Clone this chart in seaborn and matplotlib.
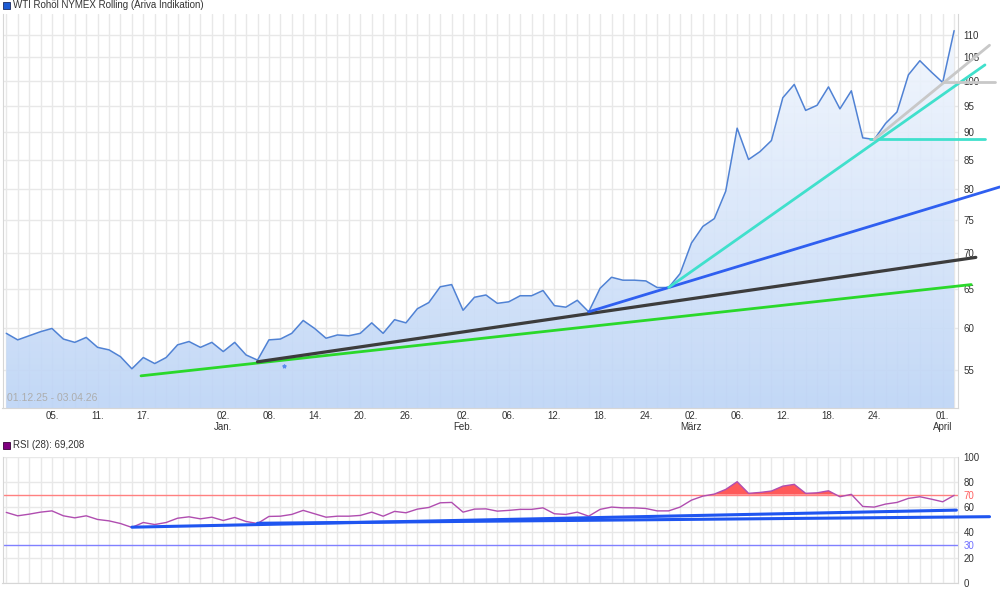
import numpy as np
import pandas as pd
import matplotlib
matplotlib.use('Agg')
import matplotlib.pyplot as plt
import seaborn as sns
from matplotlib.colors import LinearSegmentedColormap
from matplotlib.patches import Rectangle
from matplotlib.ticker import NullLocator

# daily closes, 01.12.25 - 02.04.26 (trading days)
price = [59.3, 58.5, 59.0, 59.5, 59.9, 58.6, 58.2, 58.8, 57.6, 57.3,
         56.5, 55.1, 56.4, 55.7, 56.4, 57.9, 58.3, 57.6, 58.2, 57.1,
         58.2, 56.7, 56.1, 58.5, 58.6, 59.3, 60.9, 59.9, 58.7, 59.1,
         59.0, 59.3, 60.6, 59.3, 61.0, 60.6, 62.4, 63.2, 65.3, 65.6,
         62.2, 63.9, 64.2, 63.1, 63.3, 64.1, 64.1, 64.8, 62.8, 62.6,
         63.5, 62.0, 65.1, 66.6, 66.2, 66.2, 66.1, 65.2, 65.2, 67.1,
         71.5, 74.0, 75.2, 79.6, 90.7, 85.0, 86.4, 88.4, 96.6, 99.3,
         94.1, 95.1, 98.8, 94.4, 98.0, 88.9, 88.6, 91.6, 93.8, 101.3,
         104.3, 101.9, 99.7, 111.0]

rsi = [55.9, 53.2, 54.5, 56.1, 57.1, 53.2, 51.6, 53.2, 50.3, 49.2,
       47.1, 44.0, 47.9, 46.3, 47.9, 51.3, 52.4, 50.8, 52.1, 49.5,
       51.9, 48.7, 47.1, 52.7, 52.9, 54.3, 57.5, 54.8, 52.1, 52.9,
       52.9, 53.5, 56.1, 52.9, 56.7, 55.6, 58.5, 59.8, 63.5, 63.8,
       56.1, 58.5, 58.7, 56.9, 57.5, 58.3, 58.3, 59.5, 54.8, 54.3,
       56.1, 52.9, 58.3, 60.1, 59.5, 59.5, 59.0, 57.1, 57.1, 60.1,
       65.6, 68.8, 70.4, 74.1, 80.2, 71.0, 71.7, 72.8, 76.7, 78.1,
       71.0, 71.4, 73.0, 68.3, 70.2, 60.6, 60.1, 62.5, 63.8, 67.0,
       68.3, 66.4, 64.3, 69.4]

tick_pos = [4, 8, 12, 19, 23, 27, 31, 35, 40, 44, 48, 52, 56, 60, 64, 68, 72, 76, 82]
tick_lbl = ['05.', '11.', '17.', '02.\nJan.', '08.', '14.', '20.', '26.', '02.\nFeb.',
            '06.', '12.', '18.', '24.', '02.\nMärz', '06.', '12.', '18.', '24.', '01.\nApril']
price_ticks = [55, 60, 65, 70, 75, 80, 85, 90, 95, 100, 105, 110]
rsi_ticks = [0, 20, 40, 60, 80, 100]

# trend lines: (x0, x1), (y0, y1)
tl_green = ([11.8, 84.5], [54.3, 65.6])
tl_black = ([22.0, 84.9], [55.9, 69.4])
tl_blue = ([51.0, 87.0], [62.0, 80.3])
tl_cyan = ([58.0, 85.7], [65.2, 103.4])
tl_cyan_flat = ([75.6, 85.7], [88.7, 88.7])
tl_gray = ([76.0, 86.1], [88.6, 107.7])
tl_gray_flat = ([82.0, 86.6], [99.9, 99.9])
rsi_tl_a = ([11.0, 83.2], [44.2, 57.7])
rsi_tl_b = ([22.0, 86.1], [47.3, 52.5])
event_idx = [24.3]
event_val = [55.4]

sns.set_style('white')
plt.rcParams['font.family'] = ['Liberation Sans', 'DejaVu Sans']
plt.rcParams['font.size'] = 7

df = pd.DataFrame({'idx': np.arange(len(price)), 'price': price, 'rsi': rsi})

fig = plt.figure(figsize=(10, 5.93), dpi=100)
ax = fig.add_axes([0.0025, 1 - 408 / 593, 0.9555, 394 / 593])
ax2 = fig.add_axes([0.0025, 1 - 583 / 593, 0.9555, 126.3 / 593])

xlim = (-0.33, 83.34)
grid_c = '#e8e8e8'

# ---- price panel ----
ax.set_yscale('log')
ymin, ymax = 50.8, 114.9

poly = ax.fill_between(df['idx'], df['price'], 40, facecolor='none', edgecolor='none')
cmap = LinearSegmentedColormap.from_list('fillgrad', ['#bcd4f6', '#f4f8fe'])
grad = np.linspace(0, 1, 256).reshape(-1, 1)
im = ax.imshow(grad, extent=[0, 1, 0, 1], transform=ax.transAxes, origin='lower',
               aspect='auto', cmap=cmap, alpha=0.9, zorder=1)
im.set_clip_path(poly.get_paths()[0], transform=ax.transData)

sns.lineplot(data=df, x='idx', y='price', ax=ax, color='#5082d4', lw=1.1, zorder=4)

ax.plot(*tl_green, color='#2ad82a', lw=2, zorder=5, clip_on=False)
ax.plot(*tl_black, color='#3c3c3c', lw=2.3, zorder=5, clip_on=False)
ax.plot(*tl_blue, color='#2f5ff0', lw=2, zorder=5, clip_on=False)
ax.plot(*tl_cyan, color='#40e0cc', lw=2, zorder=5, clip_on=False)
ax.plot(*tl_cyan_flat, color='#40e0cc', lw=2, zorder=5, clip_on=False)
ax.plot(*tl_gray, color='#c8c8c8', lw=2, zorder=5, clip_on=False)
ax.plot(*tl_gray_flat, color='#c8c8c8', lw=2, zorder=5, clip_on=False)
ax.scatter(event_idx, event_val, marker='*', s=6, color='#5b8def', zorder=5)

ax.set_xlim(*xlim)
ax.set_ylim(ymin, ymax)
ax.set_xticks(tick_pos)
ax.set_xticklabels(tick_lbl, color='#333333', linespacing=1.1)
ax.set_xticks(np.arange(len(price)), minor=True)
ax.yaxis.tick_right()
ax.yaxis.set_minor_locator(NullLocator())
ax.set_yticks(price_ticks)
ax.set_yticklabels([str(v) for v in price_ticks], color='#333333')
ax.tick_params(axis='both', which='both', length=0)
ax.tick_params(axis='x', pad=2)
ax.tick_params(axis='y', pad=4)
ax.grid(True, which='both', color=grid_c, lw=1, zorder=0)
ax.set_axisbelow(True)
ax.set_xlabel('')
ax.set_ylabel('')
for s in ['left', 'right', 'bottom']:
    ax.spines[s].set_color('#d6d6d6')
ax.spines['top'].set_visible(False)
ax.text(0.005, 0.026, '01.12.25 - 03.04.26', transform=ax.transAxes, color='#adadad',
        fontsize=7.5, va='center', ha='left', zorder=6)

# ---- RSI panel ----
ax2.fill_between(df['idx'], df['rsi'], 70, where=df['rsi'] > 70, interpolate=True,
                 color='#ff5a5a', lw=0, zorder=3)
ax2.axhline(70, color='#ff8080', lw=1, zorder=2)
ax2.axhline(30, color='#8080ff', lw=1, zorder=2)
sns.lineplot(data=df, x='idx', y='rsi', ax=ax2, color='#b04db0', lw=1, zorder=4)
ax2.plot(*rsi_tl_a, color='#1f55f0', lw=2.2, zorder=5, clip_on=False)
ax2.plot(*rsi_tl_b, color='#1f55f0', lw=2.2, zorder=5, clip_on=False)

ax2.set_xlim(*xlim)
ax2.set_ylim(0, 100)
ax2.set_xticks([])
ax2.set_xticks(np.arange(len(price)), minor=True)
ax2.yaxis.tick_right()
ax2.set_yticks(rsi_ticks)
ax2.set_yticklabels([str(v) for v in rsi_ticks], color='#333333')
ax2.set_yticks([30, 70], minor=True)
ax2.set_yticklabels(['30', '70'], minor=True)
mlabels = ax2.get_yticklabels(minor=True)
mlabels[0].set_color('#7070ff')
mlabels[1].set_color('#ff6060')
ax2.tick_params(axis='both', which='both', length=0, pad=4)
ax2.grid(True, which='major', axis='y', color=grid_c, lw=1, zorder=0)
ax2.grid(True, which='minor', axis='x', color=grid_c, lw=1, zorder=0)
ax2.set_axisbelow(True)
ax2.set_xlabel('')
ax2.set_ylabel('')
for s in ax2.spines.values():
    s.set_color('#d6d6d6')
ax2.spines['top'].set_visible(False)

# ---- headers ----
fig.patches.append(Rectangle((3 / 1000, 1 - 9 / 593), 7 / 1000, 7 / 593, transform=fig.transFigure,
                             facecolor='#1c5bd4', edgecolor='#1a2a60', lw=0.6))
fig.text(13 / 1000, 1 - 5.5 / 593, 'WTI Rohöl NYMEX Rolling (Ariva Indikation)', va='center',
         ha='left', color='#333333', fontsize=7)
fig.patches.append(Rectangle((3 / 1000, 1 - 449 / 593), 7 / 1000, 7 / 593, transform=fig.transFigure,
                             facecolor='#800080', edgecolor='#3a003a', lw=0.6))
fig.text(13 / 1000, 1 - 445.5 / 593, 'RSI (28): 69,208', va='center', ha='left',
         color='#333333', fontsize=7)

fig.savefig('out.png', dpi=100)
